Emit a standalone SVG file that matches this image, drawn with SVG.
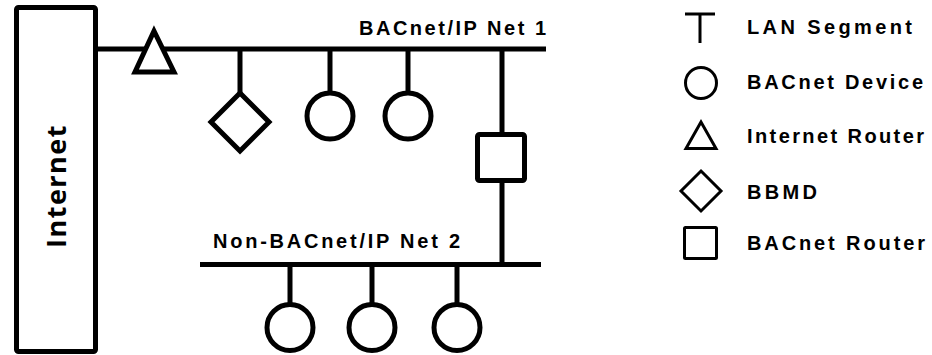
<svg xmlns="http://www.w3.org/2000/svg" width="932" height="355" viewBox="0 0 932 355">
  <style>
    .wire { stroke: #000; stroke-width: 5; fill: none; }
    .shape { stroke: #000; stroke-width: 5; fill: #fff; }
    .key { stroke: #000; stroke-width: 3; fill: #fff; }
    .lbl { font-family: "Liberation Sans", Arial, sans-serif; font-weight: bold; font-size: 20px; fill: #000; }
    .big { font-family: "Open Sans", "DejaVu Sans", sans-serif; font-weight: bold; font-size: 27px; fill: #000; }
  </style>

  <!-- segments and drops -->
  <g id="connectors">
    <line class="wire" x1="96" y1="49" x2="546" y2="49"/>
    <line class="wire" x1="240" y1="49" x2="240" y2="94"/>
    <line class="wire" x1="330" y1="49" x2="330" y2="94"/>
    <line class="wire" x1="408" y1="49" x2="408" y2="94"/>
    <line class="wire" x1="502" y1="49" x2="502" y2="265"/>
    <line class="wire" x1="200" y1="264.5" x2="541" y2="264.5"/>
    <line class="wire" x1="290" y1="264" x2="290" y2="305"/>
    <line class="wire" x1="372" y1="264" x2="372" y2="305"/>
    <line class="wire" x1="457" y1="264" x2="457" y2="305"/>
  </g>

  <g id="internet">
    <rect class="shape" x="16.5" y="7.5" width="79" height="344" rx="2"/>
    <text class="big" transform="translate(66,186) rotate(-90)" text-anchor="middle" letter-spacing="1.5">Internet</text>
  </g>

  <g id="net1-label">
    <text class="lbl" x="359" y="35" textLength="187" lengthAdjust="spacing">BACnet/IP Net 1</text>
  </g>
  <g id="net2-label">
    <text class="lbl" x="213" y="248" textLength="247" lengthAdjust="spacing">Non-BACnet/IP Net 2</text>
  </g>

  <g id="internet-router">
    <polygon class="shape" points="154,31 135,72 174,72"/>
  </g>
  <g id="bbmd">
    <polygon class="shape" points="240,93 269,122 240,151 211,122"/>
  </g>
  <g id="device-1">
    <circle class="shape" cx="330" cy="116" r="23"/>
  </g>
  <g id="device-2">
    <circle class="shape" cx="408" cy="116" r="23"/>
  </g>
  <g id="bacnet-router">
    <rect class="shape" x="477.5" y="134.5" width="47" height="46" rx="2"/>
  </g>
  <g id="device-3">
    <circle class="shape" cx="290" cy="327.5" r="23"/>
  </g>
  <g id="device-4">
    <circle class="shape" cx="372" cy="327.5" r="23"/>
  </g>
  <g id="device-5">
    <circle class="shape" cx="457" cy="327.5" r="23"/>
  </g>

  <!-- key -->
  <g id="key-lan">
    <line class="key" x1="685" y1="14" x2="715" y2="14"/>
    <line class="key" x1="700" y1="14" x2="700" y2="43"/>
    <text class="lbl" x="747" y="34" textLength="165" lengthAdjust="spacing">LAN Segment</text>
  </g>
  <g id="key-device">
    <circle class="key" cx="701" cy="83" r="15.5"/>
    <text class="lbl" x="747" y="89" textLength="176" lengthAdjust="spacing">BACnet Device</text>
  </g>
  <g id="key-router">
    <polygon class="key" points="701,122 686,148.5 716,148.5"/>
    <text class="lbl" x="747" y="143" textLength="177" lengthAdjust="spacing">Internet Router</text>
  </g>
  <g id="key-bbmd">
    <polygon class="key" points="701,171 721,191 701,211 681,191"/>
    <text class="lbl" x="747" y="199" textLength="70" lengthAdjust="spacing">BBMD</text>
  </g>
  <g id="key-bacnet-router">
    <rect class="key" x="684.5" y="227.5" width="32" height="31" rx="1"/>
    <text class="lbl" x="747" y="250" textLength="178" lengthAdjust="spacing">BACnet Router</text>
  </g>
</svg>
